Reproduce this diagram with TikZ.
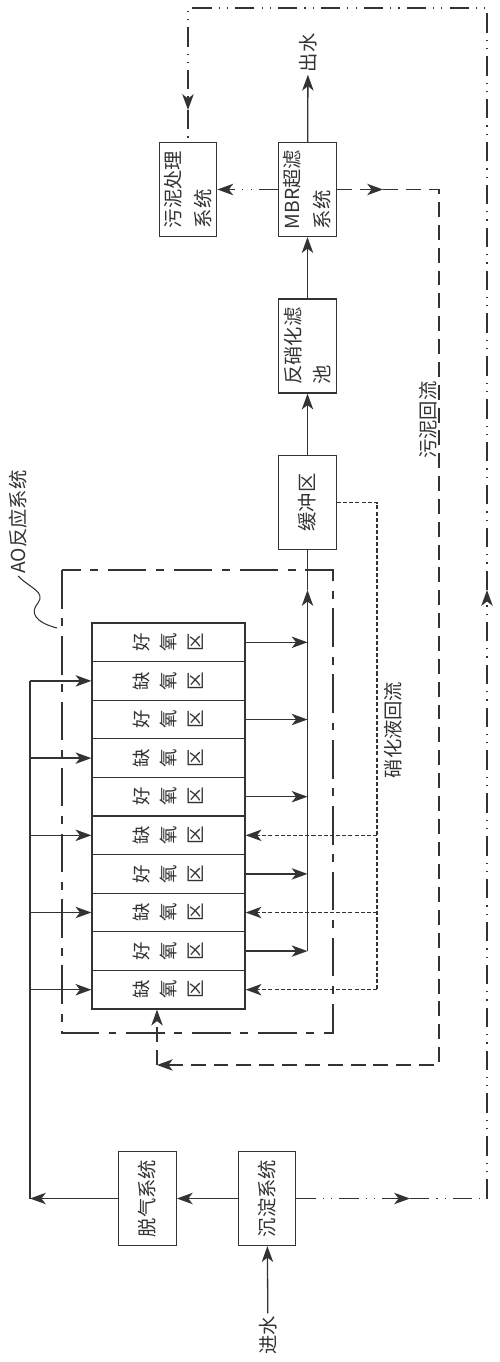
\documentclass[tikz,border=0pt]{standalone}
\usepackage{fontspec}
\setmainfont{Noto Sans CJK SC}
\usetikzlibrary{arrows.meta}

\begin{document}
\begin{tikzpicture}[x=0.02cm, y=-0.02cm, line width=0.75pt, black!80,
    box/.style={draw, rotate=90, inner sep=0pt, align=left, minimum width=1.88cm, minimum height=1.15cm, font=\fontsize{11}{17}\selectfont},
    zone/.style={draw, rotate=90, inner sep=0pt, align=center, minimum width=0.772cm, minimum height=3.06cm, font=\fontsize{10.5}{15.3}\selectfont},
    tag/.style={rotate=90, inner sep=1pt, font=\fontsize{11}{13}\selectfont},
    flow/.style={-{Stealth[length=9pt,width=6.5pt,inset=2.5pt]}},
    nitro/.style={dash pattern=on 2.3pt off 1.2pt},
    sludge/.style={dash pattern=on 8.5pt off 4.5pt},
    waste/.style={dash pattern=on 11pt off 4pt on 0.7pt off 4pt on 0.7pt off 4pt},
    aoframe/.style={dash pattern=on 22pt off 5.5pt on 4.5pt off 5.5pt}]
        \useasboundingbox (0,0) rectangle (500,1362);

        \coordinate (feedl) at (30,1198.5);
        \coordinate (nitr) at (377,503);
        \coordinate (mainup) at (307.5,590);
        \coordinate (sr1) at (383,189.5);
        \coordinate (sr2) at (439,1065);
        \coordinate (sr3) at (157,1065);
        \coordinate (wd1) at (410,1198.5);
        \coordinate (wr) at (487,590);
        \coordinate (wt) at (487,8);
        \coordinate (wl) at (188,110);
        \coordinate (aonw) at (62,570);
        \coordinate (aose) at (333,1033);

        % boxes
        \node [box] (chendian) at (267,1198.5) {沉淀系统};
        \node [box] (tuoqi) at (147.5,1198.5) {脱气系统};
        \node [box] (huanchong) at (307.5,502.5) {缓冲区};
        \node [box] (fanxiao) at (307.5,346) {反硝化滤\\池};
        \node [box] (mbr) at (307.5,189.5) {MBR超滤\\系统};
        \node [box] (wuni) at (188,189.5) {污泥处理\\系统};

        % AO zones
        \node [zone] (z1) at (168.5,642.3) {好\\氧\\区};
        \node [zone] (z2) at (168.5,680.9) {缺\\氧\\区};
        \node [zone] (z3) at (168.5,719.5) {好\\氧\\区};
        \node [zone] (z4) at (168.5,758.1) {缺\\氧\\区};
        \node [zone] (z5) at (168.5,796.7) {好\\氧\\区};
        \node [zone] (z6) at (168.5,835.3) {缺\\氧\\区};
        \node [zone] (z7) at (168.5,873.9) {好\\氧\\区};
        \node [zone] (z8) at (168.5,912.5) {缺\\氧\\区};
        \node [zone] (z9) at (168.5,951.1) {好\\氧\\区};
        \node [zone] (z10) at (168.5,989.7) {缺\\氧\\区};

        % texts
        \node [tag] (jinshui) at (268,1335) {进水};
        \node [tag] (chushui) at (308,53) {出水};
        \node [tag] (wunihl) at (428,420) {污泥回流};
        \node [tag] (xiaohua) at (393,730) {硝化液回流};
        \node [tag] (aolabel) at (18,522) {AO反应系统};

        \draw [aoframe] (aonw) rectangle (aose);
        \draw [line width=0.6pt] (aolabel.west) .. controls (30,588) and (46,592) .. (38,603) .. controls (30,612) and (34,622) .. (57,628);

        % main flow
        \draw [flow] (jinshui) -- (chendian);
        \draw [flow] (chendian) -- (tuoqi);
        \draw [flow] (tuoqi) -- (feedl);
        \draw (feedl) -- (z2 -| feedl);
        \draw [flow] (z2 -| feedl) -- (z2);
        \draw [flow] (z4 -| feedl) -- (z4);
        \draw [flow] (z6 -| feedl) -- (z6);
        \draw [flow] (z8 -| feedl) -- (z8);
        \draw [flow] (z10 -| feedl) -- (z10);

        \draw [flow] (z1) -- (z1 -| huanchong);
        \draw [flow] (z3) -- (z3 -| huanchong);
        \draw [flow] (z5) -- (z5 -| huanchong);
        \draw [flow] (z7) -- (z7 -| huanchong);
        \draw [flow] (z9) -- (z9 -| huanchong);
        \draw [flow] (z9 -| huanchong) -- (mainup);
        \draw (mainup) -- (huanchong);
        \draw [flow] (huanchong) -- (fanxiao);
        \draw [flow] (fanxiao) -- (mbr);
        \draw [flow] (mbr) -- (chushui);

        % nitrified liquid return
        \draw [nitro] (huanchong) -- (huanchong -| nitr) -- (z10 -| nitr);
        \draw [nitro, flow] (z6 -| nitr) -- (z6);
        \draw [nitro, flow] (z8 -| nitr) -- (z8);
        \draw [nitro, flow] (z10 -| nitr) -- (z10);

        % sludge return
        \draw [sludge, flow] (mbr) -- (sr1);
        \draw [sludge, flow] (sr1) -- (sr1 -| sr2) -- (sr2) -- (sr3);
        \draw [sludge, flow] (sr3) -- (sr3 |- z10.west);

        % sludge to treatment
        \draw [waste, flow] (mbr) -- (wuni);
        \draw [waste, flow] (chendian) -- (wd1);
        \draw [waste] (wd1) -- (wd1 -| wr);
        \draw [waste, flow] (wd1 -| wr) -- (wr);
        \draw [waste, flow] (wr) -- (wt) -- (wt -| wl) -- (wl);
        \draw [waste] (wl) -- (wuni);
\end{tikzpicture}
\end{document}
